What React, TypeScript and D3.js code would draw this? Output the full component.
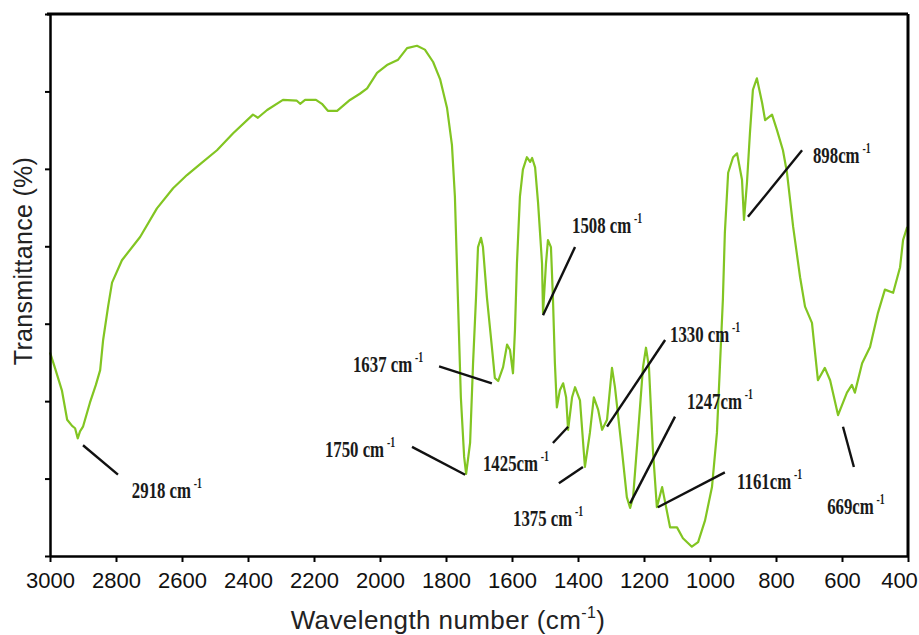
import { useEffect, useRef } from "react";
import * as d3 from "d3";

// FTIR spectrum: wavenumber (cm-1) and transmittance (%)
const WAVENUMBER = [
  3000, 2985, 2964, 2948, 2933, 2924, 2916, 2909, 2900, 2879, 2861, 2848, 2839, 2824, 2812, 2782,
  2727, 2676, 2627, 2585, 2545, 2494, 2445, 2385, 2370, 2342, 2294, 2252, 2242, 2227, 2194, 2176,
  2158, 2130, 2091, 2061, 2039, 2009, 1979, 1945, 1918, 1888, 1864, 1839, 1818, 1797, 1782, 1773,
  1764, 1755, 1745, 1739, 1727, 1718, 1709, 1703, 1694, 1688, 1676, 1661, 1652, 1642, 1627, 1615,
  1606, 1597, 1591, 1585, 1576, 1567, 1555, 1545, 1539, 1530, 1521, 1509, 1506, 1497, 1491, 1482,
  1476, 1470, 1464, 1455, 1445, 1436, 1430, 1418, 1409, 1394, 1379, 1364, 1352, 1339, 1327, 1312,
  1297, 1288, 1267, 1252, 1242, 1233, 1218, 1203, 1194, 1185, 1173, 1161, 1145, 1139, 1121, 1100,
  1082, 1055, 1036, 1015, 994, 979, 970, 961, 955, 945, 930, 918, 903, 897, 888, 879,
  870, 858, 842, 833, 812, 797, 779, 767, 748, 727, 712, 691, 673, 652, 636, 612,
  585, 570, 561, 539, 515, 491, 470, 445, 424, 415, 403, 400,
];
const TRANSMITTANCE = [
  26.3, 24.3, 21.4, 17.6, 16.8, 16.5, 15.2, 16.1, 16.7, 19.8, 22.1, 24.0, 27.9, 32.2, 35.3, 38.2,
  41.2, 44.9, 47.5, 49.2, 50.6, 52.4, 54.6, 57.0, 56.6, 57.6, 58.9, 58.8, 58.4, 58.9, 58.9, 58.4,
  57.5, 57.5, 58.9, 59.7, 60.4, 62.4, 63.4, 64.1, 65.6, 65.9, 65.4, 63.8, 61.6, 57.9, 53.1, 46.4,
  33.4, 20.5, 12.8, 10.6, 14.6, 24.9, 33.4, 39.9, 41.1, 39.9, 33.4, 27.0, 23.0, 22.6, 24.4, 27.3,
  26.6, 23.6, 29.2, 37.8, 46.4, 49.9, 51.5, 50.9, 51.4, 50.2, 45.6, 37.8, 31.4, 37.8, 40.8, 39.9,
  33.4, 24.9, 19.2, 21.4, 22.3, 20.5, 16.3, 20.5, 21.8, 20.1, 11.5, 15.9, 20.5, 18.9, 16.3, 17.6,
  24.3, 21.8, 13.7, 7.6, 6.2, 7.6, 15.9, 24.4, 26.9, 24.4, 13.7, 6.3, 8.9, 7.6, 3.7, 3.7,
  2.3, 1.2, 1.8, 4.6, 8.9, 15.9, 24.4, 33.1, 41.7, 49.5, 51.5, 52.0, 48.6, 43.4, 48.2, 54.6,
  60.2, 61.7, 58.5, 56.3, 57.0, 55.0, 52.4, 49.6, 42.5, 36.0, 32.2, 30.1, 22.7, 24.3, 22.7, 18.2,
  21.1, 22.1, 21.1, 24.9, 27.0, 31.4, 34.4, 34.0, 37.3, 40.8, 42.4, 42.1,
];

const X_TICKS = [3000, 2800, 2600, 2400, 2200, 2000, 1800, 1600, 1400, 1200, 1000, 800, 600, 400];
const Y_TICKS = [0, 10, 20, 30, 40, 50, 60, 70];

// peak annotations: label, where the label starts (wn, T), leader line ends
const PEAK_TEXT = ["2918 cm", "1750 cm", "1637 cm", "1508 cm", "1425cm", "1375 cm", "1330 cm", "1247cm", "1161cm", "898cm", "669cm"];
const PEAK_TEXT_AT: [number, number][] = [
  [2752, 7.5], [2167, 12.8], [2082, 23.8], [1418, 41.7], [1688, 11.0], [1597, 3.9],
  [1121, 27.6], [1070, 19.0], [918, 8.7], [688, 50.8], [645, 5.4],
];
const PEAK_LINE_FROM: [number, number][] = [
  [2900, 14.3], [1903, 14.1], [1821, 24.5], [1409, 39.9], [1476, 14.6], [1458, 9.4],
  [1136, 27.9], [1106, 18.0], [955, 10.8], [721, 52.4], [597, 16.7],
];
const PEAK_LINE_TO: [number, number][] = [
  [2794, 10.5], [1742, 10.5], [1661, 22.3], [1506, 31.1], [1430, 16.7], [1385, 11.5],
  [1312, 16.7], [1242, 6.8], [1158, 6.3], [885, 43.8], [564, 11.5],
];

export default function App() {
  const svgRef = useRef<SVGSVGElement | null>(null);

  useEffect(() => {
    if (!svgRef.current) return;
    const W = 919, H = 635;
    const margin = { top: 14, right: 11, bottom: 79, left: 50 };
    const innerW = W - margin.left - margin.right;
    const innerH = H - margin.top - margin.bottom;

    const svg = d3.select(svgRef.current);
    svg.selectAll("*").remove();
    svg.attr("width", W).attr("height", H);
    svg.append("rect").attr("width", W).attr("height", H).attr("fill", "#fff");

    const g = svg.append("g").attr("transform", `translate(${margin.left},${margin.top})`);

    const x = d3.scaleLinear().domain([3000, 400]).range([0, innerW]);
    const y = d3.scaleLinear().domain([0, 70]).range([innerH, 0]);

    const pts = WAVENUMBER.map((wn, i) => ({ wn, t: TRANSMITTANCE[i] }));
    const line = d3.line<(typeof pts)[0]>().x((d) => x(d.wn)).y((d) => y(d.t));

    g.append("path").datum(pts).attr("d", line as any)
      .attr("fill", "none").attr("stroke", "#82c522").attr("stroke-width", 2.2)
      .attr("stroke-linejoin", "round");

    // frame: top and right borders
    g.append("line").attr("x1", -3).attr("x2", innerW).attr("y1", 0).attr("y2", 0)
      .attr("stroke", "#000").attr("stroke-width", 3);
    g.append("line").attr("x1", innerW).attr("x2", innerW).attr("y1", 0).attr("y2", innerH)
      .attr("stroke", "#000").attr("stroke-width", 3);

    const xAxis = g.append("g").attr("transform", `translate(0,${innerH})`)
      .call(d3.axisBottom(x).tickValues(X_TICKS).tickSize(6).tickPadding(10).tickSizeOuter(0).tickFormat((d) => String(d)));
    xAxis.select(".domain").attr("stroke-width", 2.5);
    xAxis.selectAll(".tick line").attr("stroke-width", 2);
    xAxis.selectAll("text").attr("font-size", 22).attr("font-family", "'Liberation Sans', Arial, sans-serif").attr("fill", "#111");
    // the last label sits left of its tick so it stays inside the picture
    xAxis.selectAll<SVGTextElement, number>("text").filter((d) => d === 400).attr("x", -9);

    const yAxis = g.append("g")
      .call(d3.axisLeft(y).tickValues(Y_TICKS).tickSize(5).tickSizeOuter(0).tickFormat(() => ""));
    yAxis.select(".domain").attr("stroke-width", 2.5);
    yAxis.selectAll(".tick line").attr("stroke-width", 2);

    // axis titles
    svg.append("text").attr("transform", "translate(32,261) rotate(-90)")
      .attr("text-anchor", "middle").attr("font-size", 25).attr("letter-spacing", 0.3)
      .attr("font-family", "'Liberation Sans', Arial, sans-serif").attr("fill", "#222")
      .text("Transmittance (%)");

    const xt = svg.append("text").attr("x", 448).attr("y", 629)
      .attr("text-anchor", "middle").attr("font-size", 26).attr("letter-spacing", 0.4)
      .attr("font-family", "'Liberation Sans', Arial, sans-serif").attr("fill", "#222");
    xt.append("tspan").text("Wavelength number (cm");
    xt.append("tspan").attr("font-size", 16).attr("dy", -11).text("-1");
    xt.append("tspan").attr("dy", 11).text(")");

    // peak annotations
    PEAK_TEXT.forEach((label, i) => {
      const [f, t] = [PEAK_LINE_FROM[i], PEAK_LINE_TO[i]];
      g.append("line")
        .attr("x1", x(f[0])).attr("y1", y(f[1])).attr("x2", x(t[0])).attr("y2", y(t[1]))
        .attr("stroke", "#111").attr("stroke-width", 2.4);
      const [tx, ty] = PEAK_TEXT_AT[i];
      const txt = g.append("text")
        .attr("transform", `translate(${x(tx)},${y(ty)}) scale(0.7,1)`)
        .attr("font-family", "'Liberation Serif', 'Times New Roman', serif")
        .attr("font-weight", 700).attr("font-size", 24).attr("fill", "#1a1a1a");
      txt.append("tspan").text(label);
      txt.append("tspan").attr("dx", 4).attr("dy", -10).attr("font-size", 14).text("-1");
    });
  }, []);

  return <svg ref={svgRef} style={{ position: "absolute", left: 0, top: 0, display: "block" }} />;
}
